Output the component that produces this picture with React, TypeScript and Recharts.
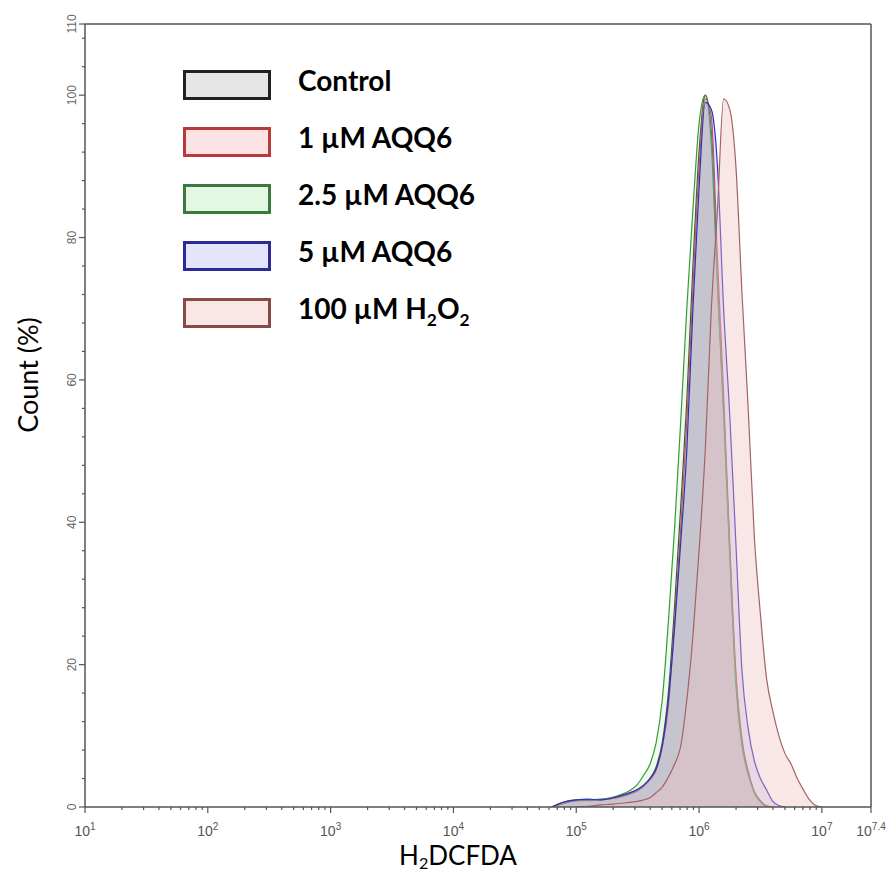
import React from 'react';
import { ComposedChart, Area, XAxis, YAxis, ReferenceLine } from 'recharts';

// log10 of H2DCFDA intensity
const logX = [
  4.5, 4.6, 4.7, 4.8, 4.9, 5.0, 5.1, 5.2, 5.3, 5.4, 5.5, 5.55, 5.6, 5.65, 5.7, 5.75, 5.8, 5.85, 5.9, 5.95,
  6.0, 6.05, 6.1, 6.15, 6.2, 6.25, 6.3, 6.35, 6.4, 6.45, 6.5, 6.55, 6.6, 6.65, 6.7, 6.75, 6.8, 6.85, 6.9, 6.95, 7.0,
];

const control = [
  null, null, null, 0, 0.6, 0.9, 1.0, 1.0, 1.2, 1.7, 2.4, 3.0, 4.0, 5.6, 9, 16, 28, 42, 57, 76,
  92, 100, 95, 74, 56, 36, 18, 9, 5, 2, 0.8, 0.1, 0, null, null, null, null, null, null, null, null,
];
const aqq1 = [
  null, null, null, 0, 0.5, 0.9, 0.9, 1.0, 1.2, 1.6, 2.3, 2.9, 3.8, 5.2, 8.5, 14, 26, 39, 54, 73,
  90, 99.5, 97, 77, 58, 37, 19, 9.5, 5, 2.2, 0.9, 0.2, 0, null, null, null, null, null, null, null, null,
];
const aqq25 = [
  null, null, null, 0, 0.7, 1.0, 1.0, 1.1, 1.4, 2.0, 3.2, 4.5, 6.0, 9, 15, 26, 39, 54, 70, 84,
  96, 100, 93, 73, 55, 35, 17, 8.5, 4.5, 2, 0.7, 0.1, 0, null, null, null, null, null, null, null, null,
];
const aqq5 = [
  null, null, null, 0, 0.7, 1.0, 1.1, 1.0, 1.3, 1.8, 2.5, 3.1, 4.0, 5.3, 8.5, 15, 25, 37, 50, 70,
  87, 99, 98, 90, 70, 55, 37, 19, 11, 6.5, 4, 2.4, 0.8, 0.2, 0, null, null, null, null, null, null,
];
const h2o2 = [
  null, null, null, null, null, 0, 0.1, 0.3, 0.4, 0.6, 0.8, 1.0, 1.3, 2.0, 2.8, 4.2, 6.0, 8.5, 15, 24,
  36, 50, 70, 84, 99.5, 98, 90, 72, 56, 38, 27, 18, 13.5, 10, 7.5, 6.0, 4.0, 2.4, 1.0, 0.2, 0,
];

const seriesNames = ['Control', '1 µM AQQ6', '2.5 µM AQQ6', '5 µM AQQ6', '100 µM H2O2'];

const yTicks = [0, 4, 8, 12, 16, 20, 24, 28, 32, 36, 40, 44, 48, 52, 56, 60, 64, 68, 72, 76, 80, 84, 88, 92, 96, 100, 104, 108, 110];
const yLabels = [0, 20, 40, 60, 80, 100, 110];
const xDecades = [1, 2, 3, 4, 5, 6, 7];
const xTickLabels = ['1', '2', '3', '4', '5', '6', '7', '7.4'];

const xMinor: number[] = [];
xDecades.slice(0, 6).forEach((d) => {
  for (let k = 2; k <= 9; k++) xMinor.push(d + Math.log10(k));
});
const xTicks = [...xDecades, ...xMinor, 7.4].sort((a, b) => a - b);

const data = logX.map((x, i) => ({
  x,
  control: control[i],
  aqq1: aqq1[i],
  aqq25: aqq25[i],
  aqq5: aqq5[i],
  h2o2: h2o2[i],
}));

const styles = [
  { key: 'control', stroke: '#2a2a2a', fill: '#9a9a9a', op: 0.35, box: '#222', boxFill: '#e6e6e6' },
  { key: 'aqq1', stroke: '#c23c3c', fill: '#f2a6a6', op: 0.28, box: '#b83a3a', boxFill: '#fde3e3' },
  { key: 'aqq25', stroke: '#3a9a3a', fill: '#a6e6a6', op: 0.22, box: '#3a7a3a', boxFill: '#e3f8e3' },
  { key: 'aqq5', stroke: '#2f2fc0', fill: '#a6a6f0', op: 0.28, box: '#2a2a9a', boxFill: '#e4e4fa' },
  { key: 'h2o2', stroke: '#a06464', fill: '#efc0c0', op: 0.38, box: '#8a4a4a', boxFill: '#fbe6e6' },
];

const tickFont = '"Liberation Sans", Arial, sans-serif';

const YTick = (props: any) => {
  const { x, y, payload } = props;
  const major = yLabels.includes(payload.value);
  return (
    <g>
      <line x1={x - (major ? 6 : 3)} x2={x} y1={y} y2={y} stroke="#555" strokeWidth={1.2} />
      {major && (
        <text
          transform={`translate(${x - 9},${y}) rotate(-90)`}
          textAnchor="middle"
          fontSize={12}
          fill="#666"
          fontFamily={tickFont}
        >
          {payload.value}
        </text>
      )}
    </g>
  );
};

const XTick = (props: any) => {
  const { x, y, payload } = props;
  const v = payload.value;
  const label = xTickLabels.find((l) => Math.abs(parseFloat(l) - v) < 1e-6);
  const major = label !== undefined;
  return (
    <g>
      <line x1={x} x2={x} y1={y} y2={y + (major ? 6 : 3)} stroke="#555" strokeWidth={1.2} />
      {major && (
        <text x={x} y={y + 29} textAnchor="middle" fontSize={14} fill="#555" fontFamily={tickFont}>
          10
          <tspan fontSize={10} dy={-6}>
            {label}
          </tspan>
        </text>
      )}
    </g>
  );
};

const Legend = () => (
  <div style={{ position: 'absolute', left: 0, top: 0 }}>
    {seriesNames.map((name, i) => {
      const s = styles[i];
      const top = 70 + i * 57;
      return (
        <React.Fragment key={name}>
          <div
            style={{
              position: 'absolute',
              left: 183,
              top,
              width: 88,
              height: 30,
              boxSizing: 'border-box',
              border: `3px solid ${s.box}`,
              background: s.boxFill,
            }}
          />
          <div
            style={{
              position: 'absolute',
              left: 298,
              top: top - 4,
              fontFamily: 'Lato, sans-serif',
              fontWeight: 700,
              fontSize: 28,
              lineHeight: '28px',
              whiteSpace: 'nowrap',
            }}
          >
            {name === '100 µM H2O2' ? (
              <>
                100 µM H<span style={{ fontSize: '0.62em', position: 'relative', top: 7 }}>2</span>O
                <span style={{ fontSize: '0.62em', position: 'relative', top: 7 }}>2</span>
              </>
            ) : (
              name
            )}
          </div>
        </React.Fragment>
      );
    })}
  </div>
);

export default function App() {
  return (
    <div style={{ position: 'absolute', left: 0, top: 0, width: 887, height: 873, background: '#fff' }}>
      <ComposedChart width={887} height={873} data={data} margin={{ top: 24, right: 16, bottom: 0, left: 0 }}>
        <XAxis
          dataKey="x"
          type="number"
          domain={[1, 7.4]}
          ticks={xTicks}
          interval={0}
          tick={(p: any) => <XTick {...p} />}
          tickLine={false}
          tickSize={0}
          tickMargin={0}
          height={66}
          stroke="#555"
          strokeWidth={1.5}
          allowDataOverflow
        />
        <YAxis
          type="number"
          domain={[0, 110]}
          ticks={yTicks}
          interval={0}
          tick={(p: any) => <YTick {...p} />}
          tickLine={false}
          tickSize={0}
          tickMargin={0}
          width={85}
          stroke="#555"
          strokeWidth={1.5}
          allowDataOverflow
        />
        <ReferenceLine y={110} stroke="#555" strokeWidth={1.5} />
        <ReferenceLine x={7.4} stroke="#555" strokeWidth={1.5} />
        {styles.map((s) => (
          <Area
            key={s.key}
            dataKey={s.key}
            type="monotone"
            stroke={s.stroke}
            strokeWidth={1.2}
            fill={s.fill}
            fillOpacity={s.op}
            dot={false}
            activeDot={false}
            isAnimationActive={false}
          />
        ))}
      </ComposedChart>
      <Legend />
      <div
        style={{
          position: 'absolute',
          left: 27,
          top: 375,
          transform: 'translate(-50%, -50%) rotate(-90deg)',
          fontFamily: 'Lato, sans-serif',
          fontSize: 27,
          whiteSpace: 'nowrap',
        }}
      >
        Count (%)
      </div>
      <div
        style={{
          position: 'absolute',
          left: 458,
          top: 843,
          transform: 'translateX(-50%)',
          fontFamily: 'Lato, sans-serif',
          fontSize: 26,
          lineHeight: '24px',
          whiteSpace: 'nowrap',
        }}
      >
        H<span style={{ fontSize: '0.62em', position: 'relative', top: 4 }}>2</span>DCFDA
      </div>
    </div>
  );
}
